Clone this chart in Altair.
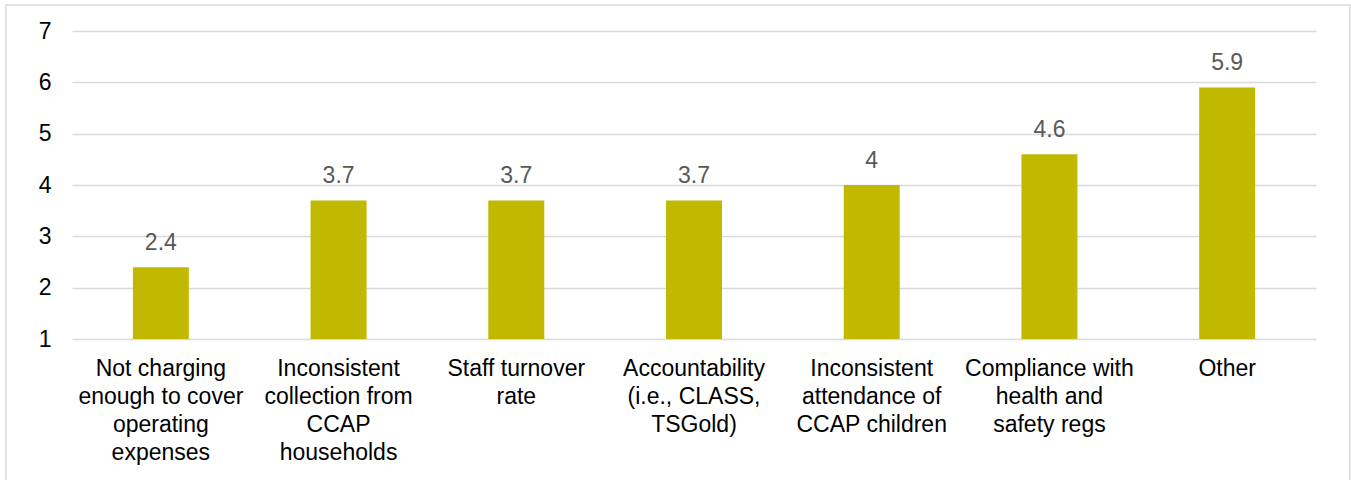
import altair as alt
import pandas as pd

categories = [
    "Not charging|enough to cover|operating|expenses",
    "Inconsistent|collection from|CCAP|households",
    "Staff turnover|rate",
    "Accountability|(i.e., CLASS,|TSGold)",
    "Inconsistent|attendance of|CCAP children",
    "Compliance with|health and|safety regs",
    "Other",
]
values = [2.4, 3.7, 3.7, 3.7, 4.0, 4.6, 5.9]
value_labels = ["2.4", "3.7", "3.7", "3.7", "4", "4.6", "5.9"]
y_ticks = [1, 2, 3, 4, 5, 6, 7]

df = pd.DataFrame({"cat": categories, "val": values, "lab": value_labels, "base": [1] * len(values)})

FONT = "Liberation Sans"

x_enc = alt.X(
    "cat:N",
    sort=categories,
    title=None,
    scale=alt.Scale(paddingInner=0.685, paddingOuter=0.3425),
    axis=alt.Axis(
        labelExpr="split(datum.label, '|')",
        labelAngle=0,
        labelFont=FONT,
        labelFontSize=23,
        labelColor="#000000",
        labelLineHeight=28,
        labelPadding=18,
        ticks=False,
        domain=False,
        labelLimit=300,
    ),
)
y_enc = alt.Y(
    "val:Q",
    title=None,
    scale=alt.Scale(domain=[1, 7], nice=False, zero=False),
    axis=alt.Axis(
        values=y_ticks,
        labelFont=FONT,
        labelFontSize=23,
        labelColor="#000000",
        labelPadding=21,
        ticks=False,
        domain=False,
        gridColor="#D9D9D9",
        gridWidth=1.5,
    ),
)

bars = alt.Chart(df).mark_bar(color="#C0B900").encode(x=x_enc, y=y_enc, y2="base:Q")
texts = alt.Chart(df).mark_text(
    font=FONT, fontSize=23, color="#595959", baseline="alphabetic", dy=-17
).encode(x=alt.X("cat:N", sort=categories), y="val:Q", text="lab:N")

border = alt.Chart(pd.DataFrame({"a": [0]})).mark_rect(
    fillOpacity=0, stroke="#D9D9D9", strokeWidth=1.5
).encode(x=alt.value(-66), x2=alt.value(1278), y=alt.value(-26), y2=alt.value(470))

chart = alt.layer(bars, texts, border).properties(
    width=1244,
    height=308,
    autosize=alt.AutoSizeParams(type="none"),
    padding={"left": 72, "top": 31, "right": 35, "bottom": 141},
).configure_view(stroke=None)

chart.save("out.html", embed_options={"renderer": "svg", "actions": False})
